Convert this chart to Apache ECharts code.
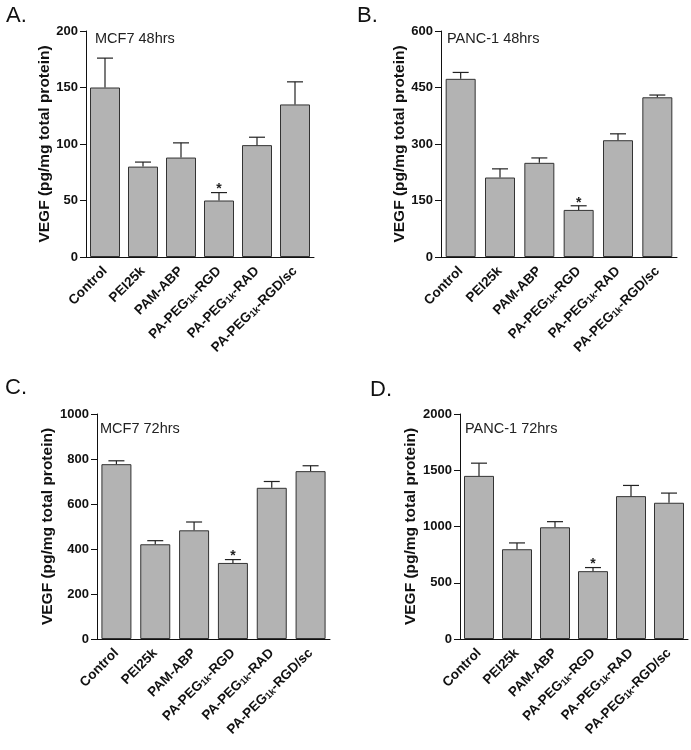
<!DOCTYPE html>
<html><head><meta charset="utf-8">
<script src="https://cdn.jsdelivr.net/npm/echarts@6/dist/echarts.min.js"></script>
<style>html,body{margin:0;padding:0;background:#fff}#c{width:691px;height:750px}</style>
</head><body><div id="c"></div>
<script>
const categories = ['Control','PEI25k','PAM-ABP','PA-PEG1k-RGD','PA-PEG1k-RAD','PA-PEG1k-RGD/sc'];
const mcf7_48 = [150, 80, 88, 50, 99, 135];
const mcf7_48_err = [26, 4, 13, 7, 7, 20];
const panc1_48 = [473, 211, 250, 125, 310, 424];
const panc1_48_err = [17, 23, 13, 11, 17, 6];
const mcf7_72 = [777, 421, 483, 338, 672, 746];
const mcf7_72_err = [15, 16, 37, 15, 28, 24];
const panc1_72 = [1450, 798, 993, 603, 1270, 1211];
const panc1_72_err = [113, 56, 50, 32, 95, 86];
const significant = [0, 0, 0, 1, 0, 0];
const yMax = [200, 600, 1000, 2000];
const yStep = [50, 150, 200, 500];
const panelTitles = ['MCF7 48hrs', 'PANC-1 48hrs', 'MCF7 72hrs', 'PANC-1 72hrs'];
const panelLetters = ['A.', 'B.', 'C.', 'D.'];
const yName = 'VEGF (pg/mg total protein)';

const FONT = 'Liberation Sans, Arial, Helvetica, sans-serif';
const values = [mcf7_48, panc1_48, mcf7_72, panc1_72];
const errs = [mcf7_48_err, panc1_48_err, mcf7_72_err, panc1_72_err];

const grids = [
  {left: 86, top: 31, width: 228, height: 226},
  {left: 441, top: 31, width: 236, height: 226},
  {left: 97, top: 414, width: 233, height: 225},
  {left: 460, top: 414, width: 228, height: 225}
];
const letterPos = [[6, 5], [357, 5], [5, 377], [370, 379]];
const titlePos = [[95, 31], [447, 31], [100, 421], [465, 421]];

function fmtLabel(v) {
  const k = v.indexOf('1k');
  if (k < 0) return '{n|' + v + '}';
  return '{n|' + v.slice(0, k) + '}{s|1k}{n|' + v.slice(k + 2) + '}';
}

function errRender(params, api) {
  const i = api.value(0), v = api.value(1), e = api.value(2), sig = api.value(3);
  const b = api.coord([i, v]);
  const t = api.coord([i, v + e]);
  const st = {stroke: '#222', lineWidth: 1.2};
  const ch = [
    {type: 'line', shape: {x1: b[0], y1: b[1], x2: t[0], y2: t[1]}, style: st},
    {type: 'line', shape: {x1: t[0] - 8, y1: t[1], x2: t[0] + 8, y2: t[1]}, style: st}
  ];
  if (sig) ch.push({type: 'text', style: {text: '*', x: t[0], y: t[1] + 4, align: 'center', verticalAlign: 'bottom', font: 'bold 14px ' + FONT, fill: '#222'}});
  return {type: 'group', children: ch};
}

const option = {
  backgroundColor: '#fff',
  animation: false,
  grid: grids,
  title: panelTitles.map((t, i) => ({text: t, left: titlePos[i][0], top: titlePos[i][1], padding: 0, textStyle: {fontFamily: FONT, fontSize: 14.5, fontWeight: 'normal', color: '#222'}}))
    .concat(panelLetters.map((t, i) => ({text: t, left: letterPos[i][0], top: letterPos[i][1], padding: 0, textStyle: {fontFamily: FONT, fontSize: 22, fontWeight: 'normal', color: '#111'}}))),
  xAxis: grids.map((g, i) => ({
    type: 'category', gridIndex: i, data: categories,
    axisLine: {lineStyle: {color: '#111', width: 1}},
    axisTick: {show: false},
    axisLabel: {rotate: 45, margin: 12, interval: 0, formatter: fmtLabel,
      rich: {n: {fontFamily: FONT, fontSize: 13.5, fontWeight: 'bold', color: '#111'},
             s: {fontFamily: FONT, fontSize: 9.5, fontWeight: 'bold', color: '#111', verticalAlign: 'bottom'}}}
  })),
  yAxis: grids.map((g, i) => ({
    type: 'value', gridIndex: i, min: 0, max: yMax[i], interval: yStep[i],
    name: yName, nameLocation: 'middle', nameGap: 32,
    nameTextStyle: {fontFamily: FONT, fontSize: 15.5, fontWeight: 'bold', color: '#111'},
    axisLine: {show: true, lineStyle: {color: '#111', width: 1}},
    axisTick: {show: true, length: 6, lineStyle: {color: '#111'}},
    axisLabel: {fontFamily: FONT, fontSize: 13, fontWeight: 'bold', color: '#111', margin: 8, formatter: v => String(v)},
    splitLine: {show: false}
  })),
  series: values.map((vals, i) => ({
    type: 'bar', xAxisIndex: i, yAxisIndex: i, data: vals, barWidth: 30,
    itemStyle: {color: '#b3b3b3', borderColor: '#333', borderWidth: 1}
  })).concat(values.map((vals, i) => ({
    type: 'custom', xAxisIndex: i, yAxisIndex: i, z: 5,
    renderItem: errRender,
    encode: {x: 0, y: 1},
    data: categories.map((c, j) => [j, vals[j], errs[i][j], significant[j]])
  })))
};
echarts.init(document.getElementById('c'), null, {renderer: 'canvas'}).setOption(option);
</script></body></html>
